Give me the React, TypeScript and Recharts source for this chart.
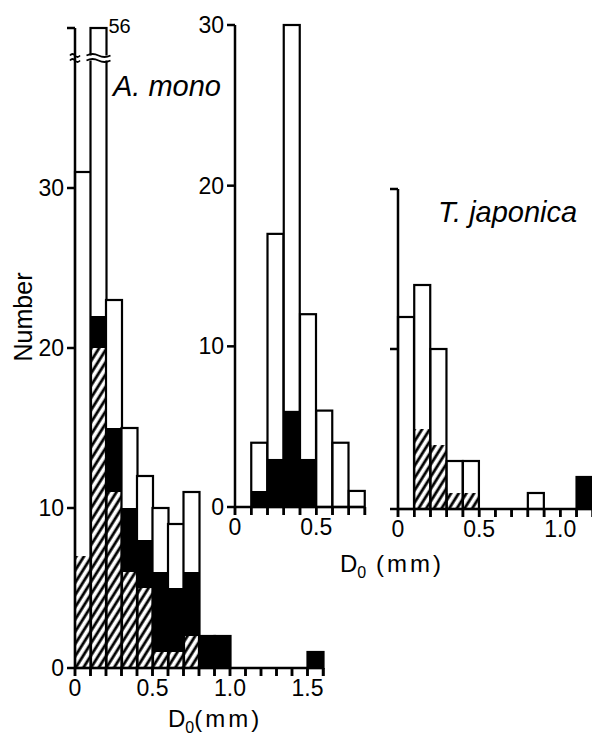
import React from 'react';
import { BarChart, Bar, XAxis, YAxis } from 'recharts';

// lower edge of each 0.1 mm size class
const monoBins = [0, 0.1, 0.2, 0.3, 0.4, 0.5, 0.6, 0.7, 0.8, 0.9, 1.0, 1.1, 1.2, 1.3, 1.4, 1.5];
// top of the open bar, top of the solid part, top of the hatched part
const monoTotal = [31, 56, 23, 15, 12, 10, 9, 11, 2, 2, 0, 0, 0, 0, 0, 1];
const monoBlackTop = [7, 22, 15, 10, 8, 6, 5, 6, 2, 2, 0, 0, 0, 0, 0, 1];
const monoHatchTop = [7, 20, 11, 6, 5, 1, 1, 2, 0, 0, 0, 0, 0, 0, 0, 0];
const monoYTicks = [0, 10, 20, 30, 40];
const monoYLabels = [0, 10, 20, 30];
const monoXLabels = [0, 0.5, 1.0, 1.5];

const midBins = [0, 0.1, 0.2, 0.3, 0.4, 0.5, 0.6, 0.7];
const midTotal = [0, 4, 17, 30, 12, 6, 4, 1];
const midBlackTop = [0, 1, 3, 6, 3, 0, 0, 0];
const midHatchTop = [0, 0, 0, 0, 0, 0, 0, 0];
const midYTicks = [0, 10, 20, 30];
const midYLabels = [0, 10, 20, 30];
const midXLabels = [0, 0.5];

const japBins = [0, 0.1, 0.2, 0.3, 0.4, 0.5, 0.6, 0.7, 0.8, 0.9, 1.0, 1.1, 1.2];
const japTotal = [12, 14, 10, 3, 3, 0, 0, 0, 1, 0, 0, 2, 0];
const japBlackTop = [0, 5, 4, 1, 1, 0, 0, 0, 0, 0, 0, 2, 0];
const japHatchTop = [0, 5, 4, 1, 1, 0, 0, 0, 0, 0, 0, 0, 0];
const japYTicks = [0, 10, 20];
const japYLabels: number[] = [];
const japXLabels = [0, 0.5, 1.0];

const FONT = '"Liberation Sans", Arial, Helvetica, sans-serif';

// the open segment is cut at the top of the axis; the true total stays in the row
const toRows = (bins: number[], total: number[], blackTop: number[], hatchTop: number[], yMax: number) =>
  bins.map((b, i) => ({
    bin: b,
    total: total[i],
    hatch: hatchTop[i],
    solid: blackTop[i] - hatchTop[i],
    open: Math.min(total[i], yMax) - blackTop[i],
  }));

const has = (list: number[], v: number) => list.some((l) => Math.abs(l - v) < 1e-6);

const SolidShape = (p: any) =>
  Math.abs(p.height) > 0 ? <rect x={p.x} y={p.y} width={p.width} height={p.height} fill="#000" /> : null;

const wave = (x0: number, x1: number, yy: number) => {
  const w = x1 - x0;
  return `M${x0},${yy} q${w / 4},-3 ${w / 2},0 t${w / 2},0`;
};

type PanelProps = {
  bins: number[];
  total: number[];
  blackTop: number[];
  hatchTop: number[];
  left: number;
  width: number;
  height: number;
  margin: { top: number; right: number; bottom: number; left: number };
  yAxisWidth: number;
  xAxisHeight: number;
  yMax: number;
  yTicks: number[];
  yLabels: number[];
  xLabels: number[];
};

function Panel(props: PanelProps) {
  const { bins, total, blackTop, hatchTop, left, width, height, margin, yAxisWidth, xAxisHeight, yMax, yTicks, yLabels, xLabels } = props;
  const rows = toRows(bins, total, blackTop, hatchTop, yMax);
  const plotTop = margin.top;
  const plotBottom = height - margin.bottom - xAxisHeight;
  const plotLeft = margin.left + yAxisWidth;
  const band = (width - margin.right - plotLeft) / bins.length;
  const lastBin = bins[bins.length - 1];

  // bottom segment; also puts the x tick marks on the bin edges
  const HatchShape = (p: any) => {
    const isLast = p.payload && Math.abs(p.payload.bin - lastBin) < 1e-6;
    return (
      <g>
        {Math.abs(p.height) > 0 && <rect x={p.x} y={p.y} width={p.width} height={p.height} fill="url(#hatch)" />}
        <line x1={p.x} x2={p.x} y1={plotBottom} y2={plotBottom + 8} stroke="#000" strokeWidth={2.5} />
        {isLast && (
          <line x1={p.x + p.width} x2={p.x + p.width} y1={plotBottom} y2={plotBottom + 8} stroke="#000" strokeWidth={2.5} />
        )}
      </g>
    );
  };

  const OpenShape = (p: any) => {
    const { x, y, width: w, height: h, payload } = p;
    if (!payload || payload.total <= 0) return null;
    const top = y;
    const segBottom = y + h;
    const over = payload.total > yMax;
    const yb = plotTop + 30;
    return (
      <g>
        {segBottom > top && <rect x={x} y={top} width={w} height={segBottom - top} fill="#fff" />}
        <rect x={x} y={top} width={w} height={plotBottom - top} fill="none" stroke="#000" strokeWidth={2.2} />
        {over && (
          <g>
            <text x={x + w + 2} y={plotTop + 5} fontSize={20} fontFamily={FONT} fill="#000">
              {payload.total}
            </text>
            <rect x={x - 4} y={yb - 2.5} width={w + 8} height={5} fill="#fff" />
            <path d={wave(x - 4, x + w + 4, yb - 2.5)} fill="none" stroke="#000" strokeWidth={1.8} />
            <path d={wave(x - 4, x + w + 4, yb + 2.5)} fill="none" stroke="#000" strokeWidth={1.8} />
            <rect x={plotLeft - 5} y={yb - 2.5} width={10} height={5} fill="#fff" />
            <path d={wave(plotLeft - 5, plotLeft + 5, yb - 2.5)} fill="none" stroke="#000" strokeWidth={1.8} />
            <path d={wave(plotLeft - 5, plotLeft + 5, yb + 2.5)} fill="none" stroke="#000" strokeWidth={1.8} />
          </g>
        )}
      </g>
    );
  };

  // category ticks sit at bin centres; labels go on the bin edges instead
  const XTick = (p: any) => {
    const v = p.payload.value as number;
    const cx = p.x as number;
    const ay = p.y as number;
    const xl = cx - band / 2;
    const xr = cx + band / 2;
    const label = has(xLabels, v) ? (v === 0 ? '0' : v.toFixed(1)) : '';
    const isLast = Math.abs(v - lastBin) < 1e-6;
    return (
      <g>
        <line x1={xl} x2={xl} y1={ay} y2={ay + 8} stroke="#000" strokeWidth={2.5} />
        {isLast && <line x1={xr} x2={xr} y1={ay} y2={ay + 8} stroke="#000" strokeWidth={2.5} />}
        {label && (
          <text x={xl} y={ay + 12} dy="0.71em" textAnchor="middle" fontSize={23} fontFamily={FONT} fill="#000">
            {label}
          </text>
        )}
      </g>
    );
  };

  return (
    <div style={{ position: 'absolute', left, top: 0, width, height }}>
      <BarChart width={width} height={height} data={rows} margin={margin} barCategoryGap={0} barGap={0}>
        <XAxis
          dataKey="bin"
          type="category"
          interval={0}
          height={xAxisHeight}
          axisLine={{ stroke: '#000', strokeWidth: 2.5 }}
          tickLine={false}
          tickSize={0}
          tickMargin={0}
          tick={XTick}
        />
        <YAxis
          type="number"
          domain={[0, yMax]}
          ticks={yTicks}
          interval={0}
          width={yAxisWidth}
          tickSize={8}
          tickMargin={3}
          axisLine={{ stroke: '#000', strokeWidth: 2.5 }}
          tickLine={{ stroke: '#000', strokeWidth: 2.5 }}
          tick={{ fontSize: 23, fill: '#000', fontFamily: FONT }}
          tickFormatter={(v: number) => (has(yLabels, v) ? String(v) : '')}
        />
        <Bar dataKey="hatch" stackId="s" shape={HatchShape} isAnimationActive={false} />
        <Bar dataKey="solid" stackId="s" shape={SolidShape} isAnimationActive={false} />
        <Bar dataKey="open" stackId="s" shape={OpenShape} isAnimationActive={false} />
      </BarChart>
    </div>
  );
}

export default function App() {
  return (
    <div style={{ position: 'absolute', left: 0, top: 0, width: 592, height: 735, overflow: 'hidden', background: '#fff' }}>
      <svg width={0} height={0} style={{ position: 'absolute' }}>
        <defs>
          <pattern id="hatch" patternUnits="userSpaceOnUse" width={6.5} height={6.5} patternTransform="rotate(32)">
            <rect width={6.5} height={6.5} fill="#fff" />
            <line x1={2} y1={0} x2={2} y2={6.5} stroke="#000" strokeWidth={2.8} />
          </pattern>
        </defs>
      </svg>

      <Panel
        bins={monoBins}
        total={monoTotal}
        blackTop={monoBlackTop}
        hatchTop={monoHatchTop}
        left={0}
        width={340}
        height={735}
        margin={{ top: 28, right: 17, bottom: 0, left: 0 }}
        yAxisWidth={75}
        xAxisHeight={67}
        yMax={40}
        yTicks={monoYTicks}
        yLabels={monoYLabels}
        xLabels={monoXLabels}
      />
      <Panel
        bins={midBins}
        total={midTotal}
        blackTop={midBlackTop}
        hatchTop={midHatchTop}
        left={160}
        width={300}
        height={567}
        margin={{ top: 25, right: 95, bottom: 0, left: 0 }}
        yAxisWidth={75}
        xAxisHeight={60}
        yMax={30}
        yTicks={midYTicks}
        yLabels={midYLabels}
        xLabels={midXLabels}
      />
      <Panel
        bins={japBins}
        total={japTotal}
        blackTop={japBlackTop}
        hatchTop={japHatchTop}
        left={320}
        width={320}
        height={569}
        margin={{ top: 189, right: 31, bottom: 0, left: 0 }}
        yAxisWidth={78}
        xAxisHeight={60}
        yMax={20}
        yTicks={japYTicks}
        yLabels={japYLabels}
        xLabels={japXLabels}
      />

      <svg width={592} height={735} style={{ position: 'absolute', left: 0, top: 0, pointerEvents: 'none' }}>
        <g fontFamily={FONT} fill="#000">
          <text x={23} y={317} fontSize={25} textAnchor="middle" dominantBaseline="central" transform="rotate(-90 23 317)">
            Number
          </text>
          <text x={113} y={96} fontSize={29} fontStyle="italic">
            A. mono
          </text>
          <text x={438} y={222} fontSize={29} fontStyle="italic">
            T. japonica
          </text>
          <text x={168} y={727} fontSize={24}>
            <tspan>D</tspan>
            <tspan dy={6} fontSize={16}>0</tspan>
            <tspan dy={-6} letterSpacing={3}>(mm)</tspan>
          </text>
          <text x={340} y={572} fontSize={24}>
            <tspan>D</tspan>
            <tspan dy={6} fontSize={16}>0</tspan>
            <tspan dy={-6} letterSpacing={3}> (mm)</tspan>
          </text>
        </g>
      </svg>
    </div>
  );
}
